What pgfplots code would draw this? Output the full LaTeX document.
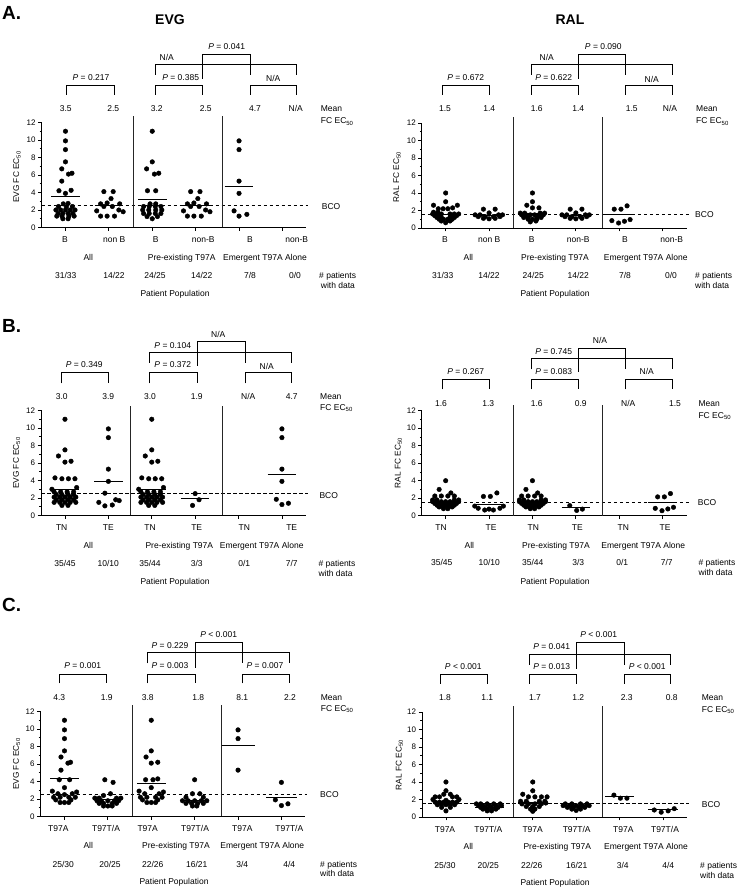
\documentclass[border=0pt]{standalone}
\usepackage{fontspec}
\setmainfont{Liberation Sans}
\usepackage{pgfplots}
\pgfplotsset{compat=1.18}

\pgfplotsset{
  dot/.style={
    scale only axis, width=264.7pt, height=105pt,
    xmin=-0.55, xmax=5.55, ymin=0, ymax=12,
    axis x line*=bottom, axis y line*=left,
    axis line style={line width=0.9pt, -},
    xtick={0,1,2,3,4,5}, xticklabels={,,,,,},
    ytick={0,2,4,6,8,10,12}, minor ytick={1,3,5,7,9,11},
    tick align=outside, major tick length=3.5pt, minor tick length=2pt,
    every tick/.append style={line width=0.8pt, black},
    tick label style={font=\fontsize{8}{9}\selectfont},
    yticklabel style={xshift=1pt},
    /pgf/number format/assume math mode=true,
    clip=false, anchor=south west,
  },
  pts/.style={only marks, mark=*, mark size=2.3pt, black, mark options={fill=black, solid}},
  meanl/.style={black, line width=1pt, no marks},
  bco/.style={black, line width=1pt, dash pattern=on 3.5pt off 2.5pt, no marks},
  sep/.style={black!85, line width=1pt, no marks},
}
\tikzset{
  t/.style={font=\fontsize{8.5}{10}\selectfont, inner sep=0pt, text height=6.1pt, text depth=0pt},
  tw/.style={t, anchor=west},
  brk/.style={line width=0.9pt, black},
  yl/.style={font=\fontsize{8.3}{9}\selectfont, inner sep=0pt, rotate=90},
  ttl/.style={font=\fontsize{14}{16}\selectfont\bfseries, inner sep=0pt, text height=10pt, text depth=0pt},
  big/.style={font=\fontsize{19}{20}\selectfont\bfseries, inner sep=0pt, anchor=west, text height=13.6pt, text depth=0pt},
}
\newcommand{\brk}[4]{\draw[brk] (#1,#4) -- (#1,#3) -- (#2,#3) -- (#2,#4);}

\begin{document}
\begin{tikzpicture}
\useasboundingbox (0pt,0pt) rectangle (740pt,890pt);

% ================= A left: EVG =================
\begin{axis}[dot, at={(41.6pt,662.5pt)}]
\addplot[bco] coordinates {(-0.55,2.5) (5.6,2.5)};
\addplot[sep] coordinates {(1.56,0) (1.56,12.7)};
\addplot[sep] coordinates {(3.61,0) (3.61,12.7)};
\addplot[pts] table[x expr=\thisrow{c}+\thisrow{d}, y=v, row sep=\\] {
c d v\\
0 0 11.0\\ 0 0 9.9\\ 0 0 8.9\\ 0 0 7.5\\ 0 -0.085 6.7\\ 0 0.07 6.1\\ 0 0.15 6.2\\ 0 -0.085 5.3\\ 0 -0.15 4.2\\ 0 0.13 4.25\\ 0 0 3.9\\
0 -0.05 2.7\\ 0 0.06 2.75\\ 0 -0.16 2.4\\ 0 0.02 2.35\\ 0 0.16 2.4\\
0 -0.22 2.0\\ 0 -0.11 2.0\\ 0 0 2.0\\ 0 0.11 2.0\\ 0 0.22 2.0\\
0 -0.17 1.6\\ 0 -0.06 1.6\\ 0 0.06 1.6\\ 0 0.17 1.6\\
0 -0.2 1.3\\ 0 -0.08 1.3\\ 0 0.08 1.3\\ 0 0.2 1.3\\ 0 -0.06 1.0\\ 0 0.06 1.0\\
1 -0.115 4.1\\ 1 0.1 4.1\\ 1 0.05 3.3\\ 1 -0.19 2.7\\ 1 -0.04 2.8\\ 1 0.25 2.7\\ 1 -0.115 2.4\\ 1 0.08 2.4\\ 1 -0.28 1.9\\ 1 0.23 2.0\\ 1 -0.19 1.3\\ 1 -0.04 1.3\\ 1 0.13 1.3\\ 1 0.33 1.8\\
2 0 11.0\\ 2 0 7.5\\ 2 -0.13 6.7\\ 2 0.05 6.1\\ 2 0.15 6.2\\ 2 -0.11 4.2\\ 2 0.08 4.2\\
2 -0.05 2.7\\ 2 0.08 2.7\\ 2 -0.2 2.4\\ 2 -0.07 2.4\\ 2 0.07 2.4\\ 2 0.2 2.4\\
2 -0.22 2.0\\ 2 -0.08 2.0\\ 2 0.08 2.0\\ 2 0.22 2.0\\ 2 -0.2 1.6\\ 2 -0.07 1.6\\ 2 0.07 1.6\\ 2 0.2 1.6\\
2 -0.12 1.25\\ 2 0.12 1.25\\ 2 0 1.0\\
3 -0.115 4.1\\ 3 0.1 4.1\\ 3 0.05 3.3\\ 3 -0.19 2.7\\ 3 -0.04 2.8\\ 3 0.25 2.7\\ 3 -0.115 2.4\\ 3 0.08 2.4\\ 3 -0.28 1.9\\ 3 0.23 2.0\\ 3 -0.19 1.3\\ 3 -0.04 1.3\\ 3 0.13 1.3\\ 3 0.33 1.8\\
4 0 9.9\\ 4 0 8.9\\ 4 0 5.3\\ 4 0 3.9\\ 4 -0.115 1.9\\ 4 0 1.3\\ 4 0.18 1.5\\
};
\addplot[meanl] coordinates {(-0.33,3.5) (0.33,3.5)};
\addplot[meanl] coordinates {(0.67,2.5) (1.33,2.5)};
\addplot[meanl] coordinates {(1.67,3.2) (2.33,3.2)};
\addplot[meanl] coordinates {(2.67,2.5) (3.33,2.5)};
\addplot[meanl] coordinates {(3.67,4.7) (4.33,4.7)};
\end{axis}

% ================= A right: RAL =================
\begin{axis}[dot, at={(421.8pt,662pt)}]
\addplot[bco] coordinates {(-0.55,1.5) (5.6,1.5)};
\addplot[sep] coordinates {(1.56,0) (1.56,12.7)};
\addplot[sep] coordinates {(3.61,0) (3.61,12.7)};
\addplot[pts] table[x expr=\thisrow{c}+\thisrow{d}, y=v, row sep=\\] {
c d v\\
0 0 4.0\\ 0 0 3.0\\ 0 -0.28 2.6\\ 0 0.27 2.6\\ 0 -0.17 2.2\\ 0 -0.06 2.2\\ 0 0.05 2.2\\ 0 0.16 2.3\\ 0 -0.28 1.8\\ 0 -0.18 1.8\\
0 -0.3 1.6\\ 0 -0.2 1.6\\ 0 -0.1 1.6\\ 0 0.1 1.6\\ 0 0.2 1.6\\ 0 0.3 1.6\\
0 -0.25 1.4\\ 0 -0.15 1.4\\ 0 0.15 1.4\\ 0 0.25 1.4\\
0 -0.2 1.2\\ 0 -0.1 1.2\\ 0 0.1 1.2\\ 0 0.2 1.2\\
0 -0.15 1.0\\ 0 -0.05 1.0\\ 0 0.05 1.0\\ 0 0.15 1.0\\ 0 -0.1 0.8\\ 0 0.1 0.8\\ 0 0 0.6\\
1 -0.13 2.15\\ 1 0.14 2.15\\ 1 0 1.72\\ 1 -0.32 1.5\\ 1 -0.21 1.5\\ 1 0.22 1.5\\ 1 0.31 1.5\\ 1 -0.25 1.3\\ 1 -0.09 1.3\\ 1 0.1 1.3\\ 1 0.25 1.3\\ 1 -0.13 1.1\\ 1 0 1.05\\ 1 0.14 1.1\\
2 0 4.0\\ 2 0 3.0\\ 2 -0.13 2.6\\ 2 0 2.3\\ 2 0.15 2.3\\
2 -0.28 1.7\\ 2 -0.18 1.7\\ 2 0.18 1.7\\ 2 0.28 1.7\\
2 -0.25 1.5\\ 2 -0.15 1.5\\ 2 -0.05 1.5\\ 2 0.05 1.5\\ 2 0.15 1.5\\ 2 0.25 1.5\\
2 -0.2 1.2\\ 2 -0.1 1.2\\ 2 0.1 1.2\\ 2 0.2 1.2\\ 2 -0.1 1.0\\ 2 0 1.0\\ 2 0.1 1.0\\ 2 -0.05 0.7\\ 2 0.08 0.8\\
3 -0.13 2.15\\ 3 0.14 2.15\\ 3 0 1.72\\ 3 -0.32 1.5\\ 3 -0.21 1.5\\ 3 0.22 1.5\\ 3 0.31 1.5\\ 3 -0.25 1.3\\ 3 -0.09 1.3\\ 3 0.1 1.3\\ 3 0.25 1.3\\ 3 -0.13 1.1\\ 3 0 1.05\\ 3 0.14 1.1\\
4 -0.115 2.15\\ 4 0.04 2.15\\ 4 0.18 2.53\\ 4 -0.17 0.84\\ 4 -0.015 0.57\\ 4 0.12 0.77\\ 4 0.25 0.96\\
};
\addplot[meanl] coordinates {(-0.33,1.5) (0.33,1.5)};
\addplot[meanl] coordinates {(0.67,1.4) (1.33,1.4)};
\addplot[meanl] coordinates {(1.67,1.6) (2.33,1.6)};
\addplot[meanl] coordinates {(2.67,1.4) (3.33,1.4)};
\addplot[meanl] coordinates {(3.67,1.5) (4.33,1.5)};
\end{axis}

% ================= B left: EVG =================
\begin{axis}[dot, at={(41.1pt,374.5pt)}]
\addplot[bco] coordinates {(-0.55,2.5) (5.6,2.5)};
\addplot[sep] coordinates {(1.52,0) (1.52,12.5)};
\addplot[sep] coordinates {(3.62,0) (3.62,12.5)};
\addplot[pts] table[x expr=\thisrow{c}+\thisrow{d}, y=v, row sep=\\] {
c d v\\
0 0 11.0\\ 0 0 7.5\\ 0 -0.15 6.8\\ 0 0 6.1\\ 0 0.14 6.2\\ 0 -0.23 4.3\\ 0 -0.07 4.2\\ 0 0.08 4.2\\ 0 0.23 4.2\\ 0 0.27 3.2\\ 0 -0.3 3.0\\
0 -0.25 2.7\\ 0 -0.1 2.7\\ 0 0.05 2.7\\ 0 0.2 2.7\\ 0 -0.2 2.4\\ 0 -0.07 2.4\\ 0 0.07 2.4\\ 0 0.2 2.4\\
0 -0.25 2.1\\ 0 -0.12 2.1\\ 0 0 2.1\\ 0 0.12 2.1\\ 0 0.25 2.1\\ 0 -0.2 1.8\\ 0 -0.07 1.8\\ 0 0.07 1.8\\ 0 0.2 1.8\\
0 -0.25 1.5\\ 0 -0.12 1.5\\ 0 0 1.5\\ 0 0.12 1.5\\ 0 0.25 1.5\\ 0 -0.07 1.15\\ 0 0.07 1.15\\
1 0 9.9\\ 1 0 8.9\\ 1 0 5.3\\ 1 0 3.9\\ 1 -0.08 2.55\\ 1 -0.22 1.5\\ 1 -0.08 1.1\\ 1 0.09 1.2\\ 1 0.17 1.8\\ 1 0.25 1.7\\
2 0 11.0\\ 2 0 7.5\\ 2 -0.15 6.8\\ 2 0 6.1\\ 2 0.14 6.2\\ 2 -0.23 4.3\\ 2 -0.07 4.2\\ 2 0.08 4.2\\ 2 0.23 4.2\\ 2 0.27 3.2\\ 2 -0.3 3.0\\
2 -0.25 2.7\\ 2 -0.1 2.7\\ 2 0.05 2.7\\ 2 0.2 2.7\\ 2 -0.2 2.4\\ 2 -0.07 2.4\\ 2 0.07 2.4\\ 2 0.2 2.4\\
2 -0.25 2.1\\ 2 -0.12 2.1\\ 2 0 2.1\\ 2 0.12 2.1\\ 2 0.25 2.1\\ 2 -0.2 1.8\\ 2 -0.07 1.8\\ 2 0.07 1.8\\ 2 0.2 1.8\\
2 -0.25 1.5\\ 2 -0.12 1.5\\ 2 0 1.5\\ 2 0.12 1.5\\ 2 0.25 1.5\\ 2 -0.07 1.15\\ 2 0.07 1.15\\
3 -0.06 1.15\\ 3 0 2.5\\ 3 0.09 1.8\\
5 0 9.9\\ 5 0 8.9\\ 5 0 5.3\\ 5 0 3.9\\ 5 -0.13 1.85\\ 5 0 1.25\\ 5 0.15 1.4\\
};
\addplot[meanl] coordinates {(-0.33,3.0) (0.33,3.0)};
\addplot[meanl] coordinates {(0.67,3.9) (1.33,3.9)};
\addplot[meanl] coordinates {(1.67,3.0) (2.33,3.0)};
\addplot[meanl] coordinates {(2.67,1.9) (3.33,1.9)};
\addplot[meanl] coordinates {(4.67,4.7) (5.33,4.7)};
\end{axis}

% ================= B right: RAL =================
\begin{axis}[dot, at={(421.8pt,374.3pt)}]
\addplot[bco] coordinates {(-0.55,1.5) (5.6,1.5)};
\addplot[sep] coordinates {(1.56,0) (1.56,12.7)};
\addplot[sep] coordinates {(3.61,0) (3.61,12.7)};
\addplot[pts] table[x expr=\thisrow{c}+\thisrow{d}, y=v, row sep=\\] {
c d v\\
0 0 4.0\\ 0 -0.15 3.0\\ 0 0.12 2.6\\ 0 -0.25 2.25\\ 0 -0.1 2.25\\ 0 0.05 2.25\\ 0 0.2 2.25\\
0 -0.3 1.8\\ 0 -0.2 1.8\\ 0 0.2 1.8\\ 0 0.3 1.8\\
0 -0.3 1.6\\ 0 -0.2 1.6\\ 0 -0.1 1.6\\ 0 0 1.6\\ 0 0.1 1.6\\ 0 0.2 1.6\\ 0 0.3 1.6\\
0 -0.25 1.4\\ 0 -0.15 1.4\\ 0 -0.05 1.4\\ 0 0.05 1.4\\ 0 0.15 1.4\\ 0 0.25 1.4\\
0 -0.2 1.2\\ 0 -0.1 1.2\\ 0 0 1.2\\ 0 0.1 1.2\\ 0 0.2 1.2\\
0 -0.15 1.0\\ 0 -0.05 1.0\\ 0 0.05 1.0\\ 0 0.15 1.0\\ 0 -0.05 0.8\\ 0 0.05 0.8\\
1 -0.13 2.2\\ 1 0.03 2.2\\ 1 0.18 2.6\\ 1 -0.33 1.1\\ 1 0.33 1.1\\ 1 -0.25 0.85\\ 1 0.25 0.85\\ 1 -0.1 0.65\\ 1 0.1 0.65\\ 1 0 0.75\\
2 0 4.0\\ 2 -0.15 3.0\\ 2 0.12 2.6\\ 2 -0.25 2.25\\ 2 -0.1 2.25\\ 2 0.05 2.25\\ 2 0.2 2.25\\
2 -0.3 1.8\\ 2 -0.2 1.8\\ 2 0.2 1.8\\ 2 0.3 1.8\\
2 -0.3 1.6\\ 2 -0.2 1.6\\ 2 -0.1 1.6\\ 2 0 1.6\\ 2 0.1 1.6\\ 2 0.2 1.6\\ 2 0.3 1.6\\
2 -0.25 1.4\\ 2 -0.15 1.4\\ 2 -0.05 1.4\\ 2 0.05 1.4\\ 2 0.15 1.4\\ 2 0.25 1.4\\
2 -0.2 1.2\\ 2 -0.1 1.2\\ 2 0 1.2\\ 2 0.1 1.2\\ 2 0.2 1.2\\
2 -0.15 1.0\\ 2 -0.05 1.0\\ 2 0.05 1.0\\ 2 0.15 1.0\\ 2 -0.05 0.8\\ 2 0.05 0.8\\
3 -0.14 1.15\\ 3 0.02 0.6\\ 3 0.15 0.75\\
5 -0.115 2.15\\ 5 0.04 2.15\\ 5 0.18 2.53\\ 5 -0.17 0.84\\ 5 -0.015 0.57\\ 5 0.12 0.77\\ 5 0.25 0.96\\
};
\addplot[meanl] coordinates {(-0.33,1.6) (0.33,1.6)};
\addplot[meanl] coordinates {(0.67,1.3) (1.33,1.3)};
\addplot[meanl] coordinates {(1.67,1.6) (2.33,1.6)};
\addplot[meanl] coordinates {(2.67,0.9) (3.33,0.9)};
\addplot[meanl] coordinates {(4.67,1.5) (5.33,1.5)};
\end{axis}

% ================= C left: EVG =================
\begin{axis}[dot, at={(40.6pt,73.5pt)}]
\addplot[bco] coordinates {(-0.55,2.5) (5.6,2.5)};
\addplot[sep] coordinates {(1.56,0) (1.56,12.7)};
\addplot[sep] coordinates {(3.61,0) (3.61,12.7)};
\addplot[pts] table[x expr=\thisrow{c}+\thisrow{d}, y=v, row sep=\\] {
c d v\\
0 0 11.0\\ 0 0 9.9\\ 0 0 8.9\\ 0 0 7.5\\ 0 -0.08 6.8\\ 0 0.08 6.1\\ 0 0.14 6.2\\ 0 -0.08 5.3\\ 0 -0.12 4.2\\ 0 0.12 4.2\\ 0 0 3.3\\
0 -0.28 2.9\\ 0 0.28 2.8\\ 0 -0.15 2.6\\ 0 0.18 2.6\\ 0 0 2.5\\
0 -0.25 2.2\\ 0 -0.1 2.2\\ 0 0.1 2.2\\ 0 0.25 2.2\\ 0 -0.2 1.9\\ 0 0.15 1.9\\ 0 -0.1 1.6\\ 0 0 1.6\\ 0 0.1 1.6\\
1 -0.07 4.2\\ 1 0.12 3.9\\ 1 0.06 2.6\\ 1 -0.1 2.4\\ 1 -0.3 2.1\\ 1 -0.2 2.1\\ 1 0.2 2.1\\ 1 0.3 2.1\\
1 -0.25 1.8\\ 1 -0.15 1.8\\ 1 0 1.8\\ 1 0.15 1.8\\ 1 0.25 1.8\\ 1 -0.2 1.5\\ 1 -0.1 1.5\\ 1 0.1 1.5\\ 1 0.2 1.5\\ 1 -0.1 1.2\\ 1 0 1.2\\ 1 0.1 1.2\\
2 0 11.0\\ 2 0 7.5\\ 2 -0.12 6.8\\ 2 0 6.1\\ 2 0.15 6.2\\ 2 -0.13 4.2\\ 2 0.04 4.2\\ 2 0.15 4.3\\ 2 0 3.3\\
2 -0.28 2.9\\ 2 0.28 2.8\\ 2 -0.15 2.6\\ 2 0.18 2.6\\ 2 -0.25 2.2\\ 2 -0.1 2.2\\ 2 0.1 2.2\\ 2 0.25 2.2\\ 2 -0.2 1.9\\ 2 0.15 1.9\\ 2 -0.1 1.6\\ 2 0 1.6\\ 2 0.1 1.6\\
3 0 4.2\\ 3 -0.05 2.6\\ 3 0.12 2.6\\ 3 -0.2 2.2\\ 3 0.2 2.2\\ 3 -0.28 1.8\\ 3 -0.15 1.8\\ 3 0 1.8\\ 3 0.15 1.8\\ 3 0.28 1.8\\
3 -0.2 1.5\\ 3 -0.07 1.5\\ 3 0.07 1.5\\ 3 0.2 1.5\\ 3 -0.05 1.2\\ 3 0.05 1.2\\
4 0 9.9\\ 4 0 8.9\\ 4 0 5.3\\
5 0 3.9\\ 5 -0.14 1.9\\ 5 0 1.25\\ 5 0.15 1.45\\
};
\addplot[meanl] coordinates {(-0.33,4.3) (0.33,4.3)};
\addplot[meanl] coordinates {(0.67,1.9) (1.33,1.9)};
\addplot[meanl] coordinates {(1.67,3.8) (2.33,3.8)};
\addplot[meanl] coordinates {(2.67,1.8) (3.33,1.8)};
\addplot[meanl] coordinates {(3.62,8.1) (4.38,8.1)};
\addplot[meanl] coordinates {(4.65,2.2) (5.35,2.2)};
\end{axis}

% ================= C right: RAL =================
\begin{axis}[dot, at={(422.1pt,73pt)}]
\addplot[bco] coordinates {(-0.55,1.5) (5.6,1.5)};
\addplot[sep] coordinates {(1.56,0) (1.56,12.7)};
\addplot[sep] coordinates {(3.61,0) (3.61,12.7)};
\addplot[pts] table[x expr=\thisrow{c}+\thisrow{d}, y=v, row sep=\\] {
c d v\\
0 0 4.0\\ 0 0 3.0\\ 0 -0.05 2.6\\ 0 0.1 2.6\\ 0 -0.25 2.3\\ 0 -0.15 2.3\\ 0 0.15 2.3\\ 0 0.25 2.3\\ 0 -0.3 2.0\\ 0 0.3 2.0\\ 0 0 1.9\\
0 -0.25 1.7\\ 0 -0.15 1.7\\ 0 -0.05 1.7\\ 0 0.05 1.7\\ 0 0.15 1.7\\ 0 0.25 1.7\\
0 -0.2 1.4\\ 0 -0.1 1.4\\ 0 0 1.4\\ 0 0.1 1.4\\ 0 0.2 1.4\\ 0 -0.1 1.1\\ 0 0.1 1.1\\ 0 0 0.7\\
1 -0.3 1.5\\ 1 -0.2 1.5\\ 1 -0.05 1.5\\ 1 0.1 1.5\\ 1 0.25 1.5\\ 1 -0.25 1.3\\ 1 -0.15 1.3\\ 1 0 1.3\\ 1 0.15 1.3\\ 1 0.28 1.3\\
1 -0.2 1.1\\ 1 -0.1 1.1\\ 1 0.05 1.1\\ 1 0.2 1.1\\ 1 -0.15 0.9\\ 1 -0.05 0.9\\ 1 0.05 0.9\\ 1 0.15 0.9\\ 1 -0.05 0.7\\ 1 0.05 0.7\\
2 0 4.0\\ 2 0 3.0\\ 2 -0.23 2.6\\ 2 -0.1 2.3\\ 2 0.05 2.3\\ 2 0.2 2.3\\ 2 0.33 2.3\\
2 -0.28 1.8\\ 2 -0.15 1.8\\ 2 0.15 1.8\\ 2 0.28 1.8\\ 2 -0.25 1.5\\ 2 -0.1 1.5\\ 2 0.05 1.5\\ 2 0.2 1.5\\
2 -0.15 1.2\\ 2 0 1.2\\ 2 0.15 1.2\\ 2 -0.05 0.9\\ 2 0.05 0.9\\ 2 0 0.65\\ 2 0.3 1.6\\
3 -0.25 1.5\\ 3 -0.1 1.5\\ 3 0.1 1.5\\ 3 0.25 1.5\\ 3 -0.3 1.3\\ 3 -0.15 1.3\\ 3 0 1.3\\ 3 0.15 1.3\\ 3 0.3 1.3\\
3 -0.2 1.1\\ 3 -0.07 1.1\\ 3 0.07 1.1\\ 3 0.2 1.1\\ 3 -0.1 0.9\\ 3 0.1 0.9\\ 3 0 0.75\\
4 -0.13 2.5\\ 4 0.02 2.15\\ 4 0.17 2.15\\
5 -0.2 0.8\\ 5 -0.04 0.55\\ 5 0.12 0.7\\ 5 0.26 0.95\\
};
\addplot[meanl] coordinates {(-0.33,1.8) (0.33,1.8)};
\addplot[meanl] coordinates {(0.67,1.1) (1.33,1.1)};
\addplot[meanl] coordinates {(1.67,1.7) (2.33,1.7)};
\addplot[meanl] coordinates {(2.67,1.2) (3.33,1.2)};
\addplot[meanl] coordinates {(3.67,2.3) (4.33,2.3)};
\addplot[meanl] coordinates {(4.65,0.8) (5.35,0.8)};
\end{axis}

% ================= annotations (pixel coordinates, y downward) =================
\begin{scope}[x=1pt, y=-1pt, shift={(0pt,890pt)}]
% ---- titles
\node[big] at (2,13) {A.};
\node[big] at (2,325.7) {B.};
\node[big] at (2,605) {C.};
\node[ttl] at (170,20) {EVG};
\node[ttl] at (570,20) {RAL};

% ---- y labels
\node[yl] at (17,177) {EVG FC EC\textsubscript{50}};
\node[yl] at (397,177) {RAL FC EC\textsubscript{50}};
\node[yl] at (16.7,463) {EVG FC EC\textsubscript{50}};
\node[yl] at (398.3,463) {RAL FC EC\textsubscript{50}};
\node[yl] at (16.7,764) {EVG FC EC\textsubscript{50}};
\node[yl] at (399.3,765) {RAL FC EC\textsubscript{50}};

% ================= A left
\brk{66.5}{114.3}{85.3}{95}
\brk{155.7}{202.3}{85.3}{95}
\brk{250}{296.7}{85.3}{95}
\brk{155.7}{296.7}{64}{75}
\draw[brk] (202.3,79) -- (202.3,54.3) -- (250,54.3) -- (250,75);
\node[t] at (91,77.3) {\textit{P} = 0.217};
\node[t] at (180.7,77.3) {\textit{P} = 0.385};
\node[t] at (273.3,78.5) {N/A};
\node[t] at (166.7,57.3) {N/A};
\node[t] at (226.7,46) {\textit{P} = 0.041};
\foreach \x/\s in {65.7/3.5, 113.3/2.5, 156.7/3.2, 205.7/2.5, 255/4.7, 295.7/N\slash A}
  \node[t] at (\x,108.3) {\s};
\node[tw] at (320.7,108.3) {Mean};
\node[tw] at (320.7,120.7) {FC EC\textsubscript{50}};
\node[tw] at (321.7,206) {BCO};
\foreach \x/\s in {65/B, 114.3/non B, 155.7/B, 203.3/non-B, 250/B, 296.7/non-B}
  \node[t] at (\x,239.3) {\s};
\node[t] at (88.3,257.3) {All};
\node[t] at (181.7,257.3) {Pre-existing T97A};
\node[t] at (265,257.3) {Emergent T97A Alone};
\foreach \x/\s in {65.7/31\slash 33, 114/14\slash 22, 155/24\slash 25, 201.7/14\slash 22, 250/7\slash 8, 295/0\slash 0}
  \node[t] at (\x,275.7) {\s};
\node[tw] at (319,275.7) {\# patients};
\node[tw] at (320.7,285.3) {with data};
\node[t] at (175,293.3) {Patient Population};

% ================= A right
\brk{442.3}{489.3}{85}{95}
\brk{531.7}{578.3}{85}{95}
\brk{625.7}{672.3}{85}{95}
\brk{531.7}{672.3}{64}{75}
\draw[brk] (578.3,79) -- (578.3,54.3) -- (625.7,54.3) -- (625.7,75);
\node[t] at (465.7,77.7) {\textit{P} = 0.672};
\node[t] at (553.7,77.7) {\textit{P} = 0.622};
\node[t] at (651.7,79) {N/A};
\node[t] at (546.7,57.3) {N/A};
\node[t] at (603.3,46) {\textit{P} = 0.090};
\foreach \x/\s in {445/1.5, 489.3/1.4, 536.7/1.6, 578.3/1.4, 631.7/1.5, 670/N\slash A}
  \node[t] at (\x,108.3) {\s};
\node[tw] at (696,108.3) {Mean};
\node[tw] at (696,120.7) {FC EC\textsubscript{50}};
\node[tw] at (695,214.3) {BCO};
\foreach \x/\s in {445/B, 489.3/non B, 531.7/B, 578.3/non-B, 625/B, 671.7/non-B}
  \node[t] at (\x,239.3) {\s};
\node[t] at (468.3,257.3) {All};
\node[t] at (555,257.3) {Pre-existing T97A};
\node[t] at (645.7,257.3) {Emergent T97A Alone};
\foreach \x/\s in {442.7/31\slash 33, 489/14\slash 22, 533.3/24\slash 25, 578.3/14\slash 22, 625/7\slash 8, 671/0\slash 0}
  \node[t] at (\x,275.7) {\s};
\node[tw] at (695,275.7) {\# patients};
\node[tw] at (695,285.3) {with data};
\node[t] at (555,293.3) {Patient Population};

% ================= B left
\brk{61}{108.3}{372.7}{383.3}
\brk{149.3}{197.3}{372.7}{383.3}
\brk{245}{291.7}{372.7}{383.3}
\brk{149.3}{291.7}{352.7}{362.7}
\draw[brk] (197.3,366) -- (197.3,341.7) -- (245,341.7) -- (245,362.7);
\node[t] at (84.2,364) {\textit{P} = 0.349};
\node[t] at (172.8,364) {\textit{P} = 0.372};
\node[t] at (266.7,366) {N/A};
\node[t] at (172.8,345) {\textit{P} = 0.104};
\node[t] at (218.3,334.3) {N/A};
\foreach \x/\s in {61.7/3.0, 108.3/3.9, 150/3.0, 196.7/1.9, 248.3/N\slash A, 291.7/4.7}
  \node[t] at (\x,396) {\s};
\node[tw] at (320,396) {Mean};
\node[tw] at (320,407.3) {FC EC\textsubscript{50}};
\node[tw] at (319.3,495) {BCO};
\foreach \x/\s in {61.7/TN, 108.3/TE, 150/TN, 196.7/TE, 244.3/TN, 291.7/TE}
  \node[t] at (\x,527.3) {\s};
\node[t] at (88.3,545.7) {All};
\node[t] at (179.3,545.7) {Pre-existing T97A};
\node[t] at (261.7,545.7) {Emergent T97A Alone};
\foreach \x/\s in {65/35\slash 45, 108.3/10\slash 10, 150/35\slash 44, 196.7/3\slash 3, 244.3/0\slash 1, 291.7/7\slash 7}
  \node[t] at (\x,563.3) {\s};
\node[tw] at (318.3,563.3) {\# patients};
\node[tw] at (318.3,573.3) {with data};
\node[t] at (175,581.5) {Patient Population};

% ================= B right
\brk{442.3}{489.3}{379.3}{389.3}
\brk{531}{578.3}{379.3}{389.3}
\brk{625.7}{672.3}{379.3}{389.3}
\brk{531}{672.3}{358.3}{369.3}
\draw[brk] (578.3,372) -- (578.3,348.3) -- (625.7,348.3) -- (625.7,369.3);
\node[t] at (465.7,371.7) {\textit{P} = 0.267};
\node[t] at (553.7,371.7) {\textit{P} = 0.083};
\node[t] at (646.7,371.7) {N/A};
\node[t] at (553.7,351) {\textit{P} = 0.745};
\node[t] at (600,340.7) {N/A};
\foreach \x/\s in {441/1.6, 488.3/1.3, 536.7/1.6, 580.7/0.9, 628.3/N\slash A, 675/1.5}
  \node[t] at (\x,403.3) {\s};
\node[tw] at (698.3,403.3) {Mean};
\node[tw] at (698.3,415) {FC EC\textsubscript{50}};
\node[tw] at (697.7,502.7) {BCO};
\foreach \x/\s in {441/TN, 491/TE, 533.3/TN, 577.3/TE, 623.3/TN, 665/TE}
  \node[t] at (\x,527.3) {\s};
\node[t] at (469.3,545.7) {All};
\node[t] at (556,545.7) {Pre-existing T97A};
\node[t] at (643.3,545.7) {Emergent T97A Alone};
\foreach \x/\s in {441.7/35\slash 45, 489.3/10\slash 10, 532.7/35\slash 44, 578.3/3\slash 3, 622.3/0\slash 1, 666.7/7\slash 7}
  \node[t] at (\x,562.7) {\s};
\node[tw] at (698.3,562.7) {\# patients};
\node[tw] at (698.3,572.3) {with data};
\node[t] at (555,581.5) {Patient Population};

% ================= C left
\brk{59.3}{106}{674.3}{683.3}
\brk{147.7}{195}{674.3}{683.3}
\brk{242.3}{289.3}{674.3}{683.3}
\brk{147.7}{289.3}{652.7}{663.3}
\draw[brk] (195,668) -- (195,642.7) -- (242.3,642.7) -- (242.3,663.3);
\node[t] at (82.7,665) {\textit{P} = 0.001};
\node[t] at (170,665) {\textit{P} = 0.003};
\node[t] at (265,665) {\textit{P} = 0.007};
\node[t] at (170,645.7) {\textit{P} = 0.229};
\node[t] at (218.7,634.3) {\textit{P} < 0.001};
\foreach \x/\s in {59.3/4.3, 106.7/1.9, 147.7/3.8, 198.3/1.8, 242.3/8.1, 290/2.2}
  \node[t] at (\x,697.3) {\s};
\node[tw] at (320.7,697.3) {Mean};
\node[tw] at (320.7,708.3) {FC EC\textsubscript{50}};
\node[tw] at (320,794.3) {BCO};
\foreach \x/\s in {58.3/T97A, 106/T97T\slash A, 147.7/T97A, 195/T97T\slash A, 242.3/T97A, 289.3/T97T\slash A}
  \node[t] at (\x,828.3) {\s};
\node[t] at (88.3,845.7) {All};
\node[t] at (176,845.7) {Pre-existing T97A};
\node[t] at (262.3,845.7) {Emergent T97A Alone};
\foreach \x/\s in {63.3/25\slash 30, 110/20\slash 25, 152.7/22\slash 26, 196.7/16\slash 21, 242.3/3\slash 4, 289.3/4\slash 4}
  \node[t] at (\x,864) {\s};
\node[tw] at (320,864) {\# patients};
\node[tw] at (320,873.3) {with data};
\node[t] at (174,881.7) {Patient Population};

% ================= C right
\brk{440}{487.3}{674.3}{684}
\brk{529}{576.7}{674.3}{684}
\brk{624}{670.7}{674.3}{684}
\brk{529}{670.7}{654}{665}
\draw[brk] (576.7,669) -- (576.7,642.7) -- (624,642.7) -- (624,665);
\node[t] at (463.3,666) {\textit{P} < 0.001};
\node[t] at (551.7,666) {\textit{P} = 0.013};
\node[t] at (647.2,666) {\textit{P} < 0.001};
\node[t] at (551.7,646) {\textit{P} = 0.041};
\node[t] at (598.7,634.3) {\textit{P} < 0.001};
\foreach \x/\s in {445/1.8, 487.3/1.1, 535/1.7, 578.3/1.2, 626.7/2.3, 671.7/0.8}
  \node[t] at (\x,697.3) {\s};
\node[tw] at (701.7,697.3) {Mean};
\node[tw] at (701.7,709.3) {FC EC\textsubscript{50}};
\node[tw] at (701.7,804) {BCO};
\foreach \x/\s in {445/T97A, 488.3/T97T\slash A, 532.7/T97A, 576.7/T97T\slash A, 623.3/T97A, 665/T97T\slash A}
  \node[t] at (\x,829.3) {\s};
\node[t] at (468.3,846.7) {All};
\node[t] at (557.3,846.7) {Pre-existing T97A};
\node[t] at (646,846.7) {Emergent T97A Alone};
\foreach \x/\s in {445/25\slash 30, 488.3/20\slash 25, 531.7/22\slash 26, 576.7/16\slash 21, 622.7/3\slash 4, 668.3/4\slash 4}
  \node[t] at (\x,865) {\s};
\node[tw] at (700,865) {\# patients};
\node[tw] at (700,875) {with data};
\node[t] at (555,882.7) {Patient Population};
\end{scope}
\end{tikzpicture}
\end{document}
